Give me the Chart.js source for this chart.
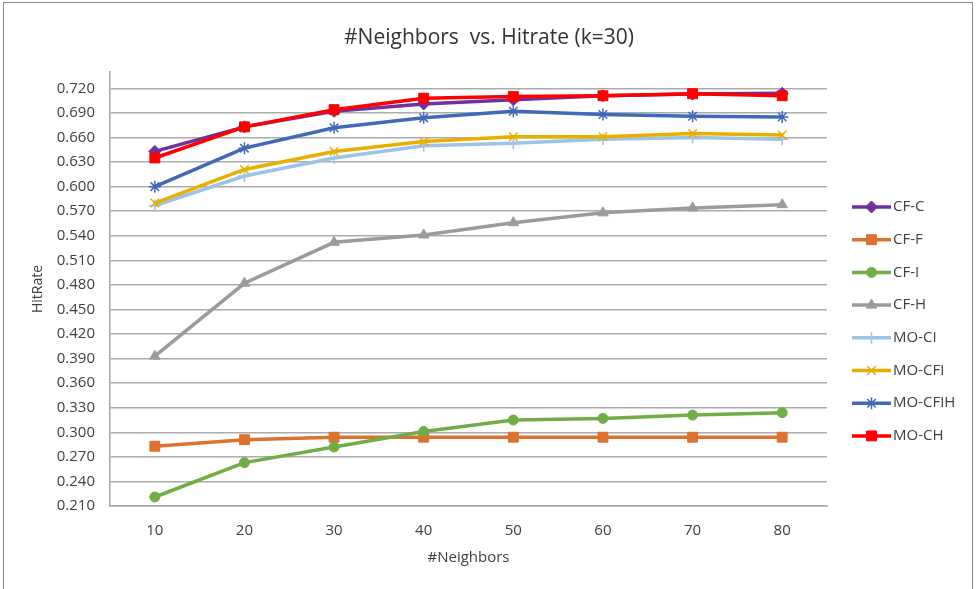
<!DOCTYPE html>
<html>
<head>
<meta charset="utf-8">
<script src="https://cdn.jsdelivr.net/npm/chart.js@4.4.0/dist/chart.umd.min.js"></script>
<style>
  body { margin: 0; background: #fff; }
  #wrap { position: relative; width: 976px; height: 589px; }
</style>
</head>
<body>
<div id="wrap"><canvas id="chart" width="976" height="589"></canvas></div>
<script>
// Donnees
var neighbors = ["10", "20", "30", "40", "50", "60", "70", "80"];
var seriesNames = ["CF-C", "CF-F", "CF-I", "CF-H", "MO-CI", "MO-CFI", "MO-CFIH", "MO-CH"];
var cfC    = [0.643, 0.673, 0.692, 0.701, 0.706, 0.711, 0.713, 0.714];
var cfF    = [0.283, 0.291, 0.294, 0.294, 0.294, 0.294, 0.294, 0.294];
var cfI    = [0.221, 0.263, 0.282, 0.301, 0.315, 0.317, 0.321, 0.324];
var cfH    = [0.393, 0.482, 0.532, 0.541, 0.556, 0.568, 0.574, 0.578];
var moCI   = [0.577, 0.613, 0.635, 0.650, 0.653, 0.658, 0.660, 0.658];
var moCFI  = [0.580, 0.621, 0.643, 0.655, 0.661, 0.661, 0.665, 0.663];
var moCFIH = [0.600, 0.647, 0.672, 0.684, 0.692, 0.688, 0.686, 0.685];
var moCH   = [0.635, 0.673, 0.694, 0.708, 0.710, 0.711, 0.7135, 0.711];
var yTicks = [0.210, 0.240, 0.270, 0.300, 0.330, 0.360, 0.390, 0.420, 0.450,
              0.480, 0.510, 0.540, 0.570, 0.600, 0.630, 0.660, 0.690, 0.720];
var chartTitle = "#Neighbors  vs. Hitrate (k=30)";

var allValues = [cfC, cfF, cfI, cfH, moCI, moCFI, moCFIH, moCH];
var colors = ["#7030A0", "#DD7230", "#70AD47", "#9B9B9B", "#9DC3E6", "#E8AE00", "#4169B8", "#FF0000"];
var markers = ["rectRot", "rect", "circle", "triangle", "cross", "crossRot", "star", "rect"];
var radii = [6, 7, 5, 6, 6, 6, 6, 7];

var datasets = [];
for (var i = 0; i < seriesNames.length; i++) {
    var thin = (markers[i] == "cross" || markers[i] == "crossRot" || markers[i] == "star");
    datasets.push({
        label: seriesNames[i],
        data: allValues[i],
        borderColor: colors[i],
        backgroundColor: colors[i],
        borderWidth: 3.5,
        pointStyle: markers[i],
        pointRadius: radii[i],
        pointBorderWidth: thin ? 1.5 : 1,
        pointBorderColor: colors[i],
        pointBackgroundColor: colors[i],
        tension: 0,
        order: seriesNames.length - i
    });
}

var font = "'Open Sans', 'DejaVu Sans', sans-serif";

// cadre gris, titre centre sur la page, legende a droite (ligne + marqueur)
var frameLegend = {
    id: "frameLegend",
    afterDraw: function (chart) {
        var ctx = chart.ctx;
        ctx.save();
        ctx.strokeStyle = "#8c8c8c";
        ctx.lineWidth = 1;
        ctx.strokeRect(3.5, 2.5, 969, 620);

        ctx.fillStyle = "#333333";
        ctx.font = "21px " + font;
        ctx.textAlign = "center";
        ctx.textBaseline = "middle";
        ctx.fillText(chartTitle, 489, 38);

        var ds = chart.data.datasets;
        for (var k = 0; k < ds.length; k++) {
            var y = 207 + k * 32.7;
            ctx.strokeStyle = ds[k].borderColor;
            ctx.fillStyle = ds[k].borderColor;
            ctx.lineWidth = 3.5;
            ctx.beginPath();
            ctx.moveTo(852, y);
            ctx.lineTo(891, y);
            ctx.stroke();
            ctx.lineWidth = ds[k].pointBorderWidth;
            Chart.helpers.drawPoint(ctx, {
                pointStyle: ds[k].pointStyle,
                radius: ds[k].pointRadius,
                rotation: 0,
                borderWidth: ds[k].pointBorderWidth
            }, 871.5, y);
            ctx.fillStyle = "#404040";
            ctx.font = "15px " + font;
            ctx.textBaseline = "middle";
            ctx.textAlign = "left";
            ctx.fillText(ds[k].label, 893, y);
        }
        ctx.restore();
    }
};

var ctx = document.getElementById("chart").getContext("2d");
new Chart(ctx, {
    type: "line",
    data: { labels: neighbors, datasets: datasets },
    options: {
        responsive: false,
        animation: false,
        layout: { padding: { left: 0, right: 149, top: 72, bottom: 0 } },
        plugins: {
            legend: { display: false },
            tooltip: { enabled: false },
            title: { display: false }
        },
        scales: {
            x: {
                type: "category",
                offset: true,
                grid: { display: false, drawTicks: false },
                border: { display: true, color: "#a6a6a6", width: 1.5 },
                ticks: { color: "#404040", font: { family: font, size: 15 }, padding: 16, maxRotation: 0 },
                title: {
                    display: true, text: "#Neighbors", color: "#404040",
                    font: { family: font, size: 15 },
                    padding: { top: 24, bottom: 22 }
                },
                afterFit: function (scale) { scale.height = 83; }
            },
            y: {
                min: 0.21,
                max: 0.74,
                afterBuildTicks: function (scale) {
                    scale.ticks = yTicks.map(function (v) { return { value: v }; });
                },
                grid: { color: "#ababab", lineWidth: 1.5, drawTicks: false },
                border: { display: true, color: "#a6a6a6", width: 1.5 },
                ticks: {
                    color: "#404040",
                    font: { family: font, size: 15 },
                    padding: 15,
                    callback: function (v) { return Number(v).toFixed(3); }
                },
                title: {
                    display: true, text: "HitRate", color: "#404040",
                    font: { family: font, size: 14 },
                    padding: { top: 30, bottom: 0 }
                },
                afterFit: function (scale) { scale.width = 110; }
            }
        }
    },
    plugins: [frameLegend]
});
</script>
</body>
</html>
